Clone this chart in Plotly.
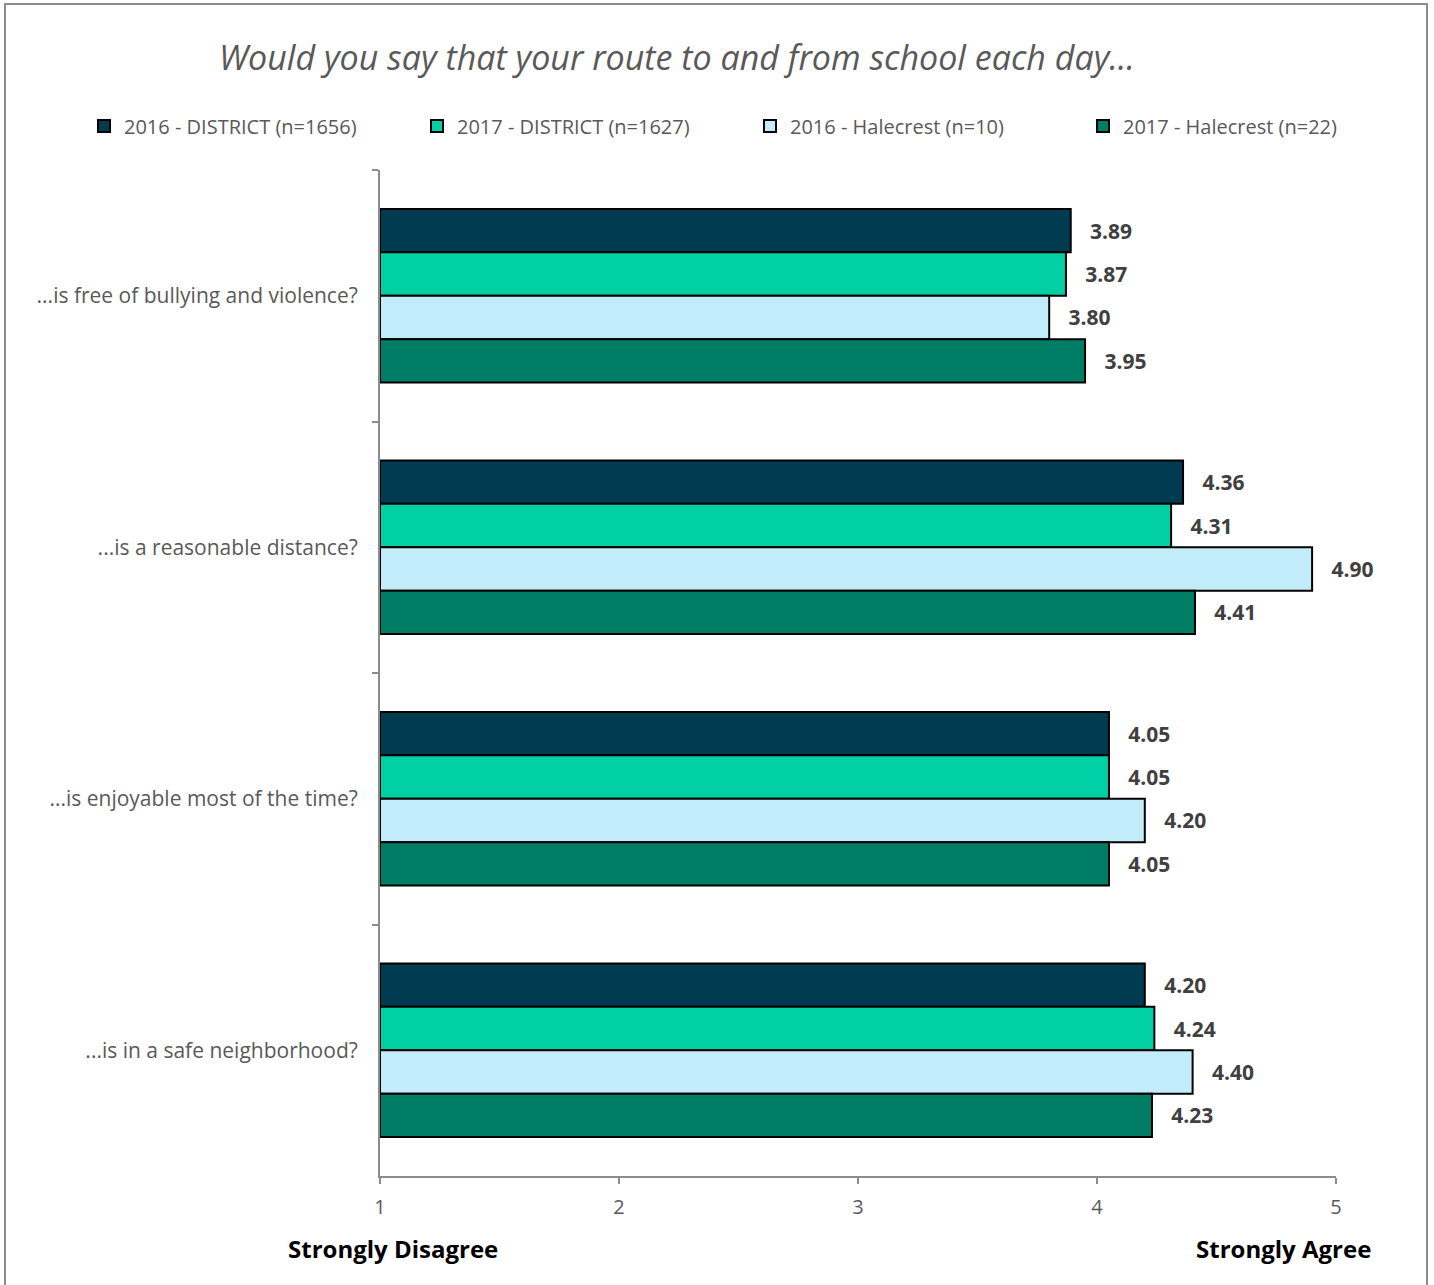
import plotly.graph_objects as go

categories = [
    "...is free of bullying and violence?",
    "...is a reasonable distance?",
    "...is enjoyable most of the time?",
    "...is in a safe neighborhood?",
]
series_names = [
    "2016 - DISTRICT (n=1656)",
    "2017 - DISTRICT (n=1627)",
    "2016 - Halecrest (n=10)",
    "2017 - Halecrest (n=22)",
]
d2016 = [3.89, 4.36, 4.05, 4.20]
d2017 = [3.87, 4.31, 4.05, 4.24]
h2016 = [3.80, 4.90, 4.20, 4.40]
h2017 = [3.95, 4.41, 4.05, 4.23]
series_values = [d2016, d2017, h2016, h2017]
colors = ["#003B52", "#00D0A4", "#C2ECFA", "#007E65"]
x_ticks = [1, 2, 3, 4, 5]

FONT = "Open Sans"
L, R, T, B = 380, 98, 170, 109
W, H = 1434, 1285
PW, PH = W - L - R, H - T - B


def px_x(px):
    return (px - L) / PW


def px_y(py):
    return 1 - (py - T) / PH


fig = go.Figure()
for name, vals, col in zip(series_names, series_values, colors):
    fig.add_trace(go.Bar(
        y=categories,
        x=[v - 1 for v in vals],
        base=1,
        orientation="h",
        name=name,
        marker=dict(color=col, line=dict(color="#000000", width=2)),
        text=["   " + f"{v:.2f}" for v in vals],
        textposition="outside",
        textfont=dict(family=FONT, size=21, color="#404040", weight="bold"),
        cliponaxis=False,
        hoverinfo="skip",
    ))

fig.update_layout(
    width=W,
    height=H,
    barmode="group",
    bargap=0.31,
    bargroupgap=0,
    plot_bgcolor="white",
    paper_bgcolor="white",
    margin=dict(l=L, r=R, t=T, b=B, autoexpand=False),
    font=dict(family=FONT, color="#595959"),
    title=dict(
        text="<i>Would you say that your route to and from school each day...</i>",
        x=677 / W, xanchor="center", y=1 - 58 / H, yanchor="middle",
        font=dict(family=FONT, size=34, color="#595959"),
    ),
    legend=dict(
        orientation="h",
        x=px_x(84), xanchor="left",
        y=px_y(126), yanchor="middle",
        font=dict(family=FONT, size=20, color="#595959"),
        entrywidth=288,
        entrywidthmode="pixels",
        itemwidth=30,
        traceorder="normal",
    ),
    showlegend=True,
)

fig.update_xaxes(
    range=[1, 5],
    tickvals=x_ticks,
    ticktext=[str(t) for t in x_ticks],
    showgrid=False,
    zeroline=False,
    showline=True,
    linecolor="#8C8C8C",
    linewidth=2,
    ticks="outside",
    ticklen=6,
    tickwidth=2,
    tickcolor="#8C8C8C",
    ticklabelstandoff=6,
    tickfont=dict(family=FONT, size=20, color="#595959"),
)
fig.update_yaxes(
    autorange="reversed",
    showgrid=False,
    showline=True,
    linecolor="#8C8C8C",
    linewidth=2,
    ticks="outside",
    ticklen=6,
    tickwidth=2,
    tickcolor="#8C8C8C",
    tickson="boundaries",
    ticklabelstandoff=16,
    tickfont=dict(family=FONT, size=21, color="#595959"),
)

fig.add_annotation(
    text="<b>Strongly Disagree</b>", xref="paper", yref="paper",
    x=px_x(286), xanchor="left", y=px_y(1248), yanchor="middle",
    showarrow=False, font=dict(family=FONT, size=24, color="#000000"),
)
fig.add_annotation(
    text="<b>Strongly Agree</b>", xref="paper", yref="paper",
    x=px_x(1373), xanchor="right", y=px_y(1248), yanchor="middle",
    showarrow=False, font=dict(family=FONT, size=24, color="#000000"),
)

# outer chart border (bottom edge lies below the visible page)
fig.add_shape(
    type="rect", xref="paper", yref="paper",
    x0=px_x(5), x1=px_x(1427),
    y0=px_y(1330), y1=px_y(4),
    line=dict(color="#8C8C8C", width=2), fillcolor="rgba(0,0,0,0)", layer="below",
)

fig.write_html(
    "out.html",
    config={"displayModeBar": False},
    post_script="document.body.style.margin='0';document.body.style.overflow='hidden';",
)
